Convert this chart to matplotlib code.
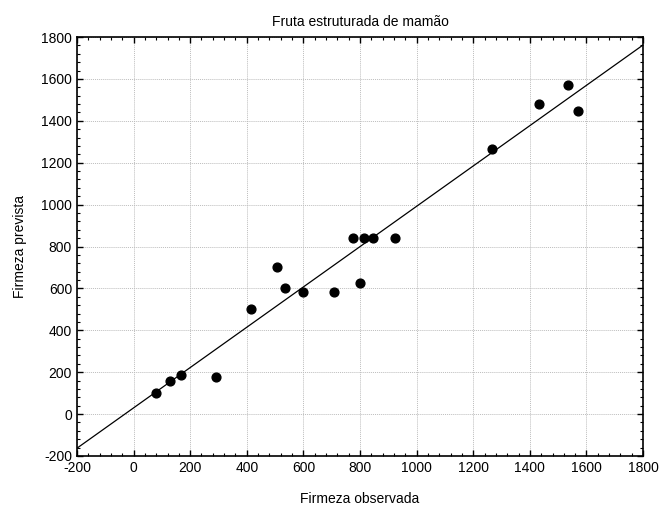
import numpy as np
import matplotlib
matplotlib.use("Agg")
import matplotlib.pyplot as plt
from matplotlib.ticker import MultipleLocator

plt.rcParams['font.family'] = ['Liberation Sans Narrow', 'Liberation Sans', 'DejaVu Sans']
plt.rcParams['axes.unicode_minus'] = False

# observed vs predicted firmness
observada = [80, 130, 167, 290, 415, 507, 535, 600, 708, 775, 800, 815, 845, 925,
             1265, 1433, 1536, 1569]
prevista = [100, 160, 187, 175, 500, 700, 600, 585, 585, 840, 626, 840, 840, 840,
            1265, 1482, 1571, 1445]

# fitted line: prevista = a + b * observada
coef_a = 29.5
coef_b = 0.9625

fig = plt.figure(figsize=(6.63, 5.07), dpi=100)
ax = fig.add_axes([0.116, 0.1006, 0.854, 0.8264])

xl = np.array([-200, 1800])
ax.plot(xl, coef_a + coef_b * xl, color='black', lw=0.9, zorder=3)
ax.scatter(observada, prevista, s=40, color='black', zorder=4)

ax.set_xlim(-200, 1800)
ax.set_ylim(-200, 1800)
ax.xaxis.set_major_locator(MultipleLocator(200))
ax.yaxis.set_major_locator(MultipleLocator(200))
ax.xaxis.set_minor_locator(MultipleLocator(40))
ax.yaxis.set_minor_locator(MultipleLocator(40))
ax.tick_params(which='both', direction='in', top=True, right=True, labelsize=10)
ax.tick_params(which='major', length=4, width=1)
ax.tick_params(which='minor', length=2, width=0.8)
ax.grid(True, which='major', color='#bdbdbd', ls=(0, (1, 1)), lw=0.7)
for sp in ax.spines.values():
    sp.set_linewidth(1.2)

ax.set_xlabel('Firmeza observada', fontsize=10, labelpad=12)
ax.set_ylabel('Firmeza prevista', fontsize=10, labelpad=10)
ax.set_title('Fruta estruturada de mamão', fontsize=10, pad=8)

fig.savefig('out.png', dpi=100)
